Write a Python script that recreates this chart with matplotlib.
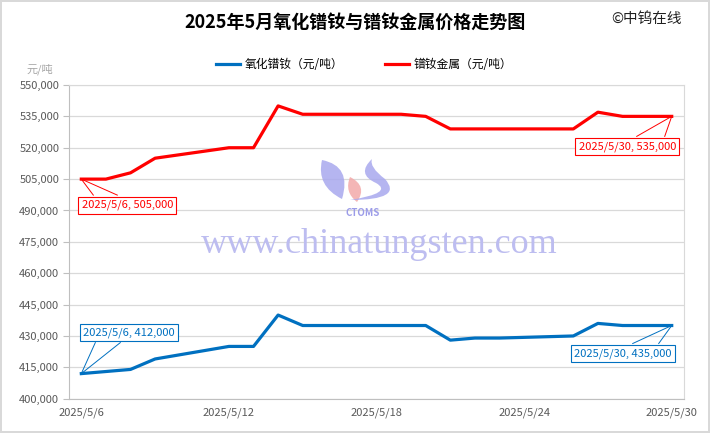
import matplotlib
matplotlib.use("Agg")
import matplotlib.pyplot as plt
import matplotlib.dates as mdates
from matplotlib.ticker import FuncFormatter
from matplotlib.path import Path
from matplotlib.patches import PathPatch
import numpy as np
import datetime as dt

plt.rcParams['font.family'] = ['Noto Sans CJK SC', 'DejaVu Sans']

# trading days in May 2025
days = ["2025-05-06", "2025-05-07", "2025-05-08", "2025-05-09", "2025-05-12",
        "2025-05-13", "2025-05-14", "2025-05-15", "2025-05-16", "2025-05-19",
        "2025-05-20", "2025-05-21", "2025-05-22", "2025-05-23", "2025-05-26",
        "2025-05-27", "2025-05-28", "2025-05-29", "2025-05-30"]
oxide = [412000, 413000, 414000, 419000, 425000, 425000, 440000, 435000, 435000,
         435000, 435000, 428000, 429000, 429000, 430000, 436000, 435000, 435000, 435000]
metal = [505000, 505000, 508000, 515000, 520000, 520000, 540000, 536000, 536000,
         536000, 535000, 529000, 529000, 529000, 529000, 537000, 535000, 535000, 535000]
tick_days = ["2025-05-06", "2025-05-12", "2025-05-18", "2025-05-24", "2025-05-30"]
y_ticks = np.arange(400000, 550001, 15000)

oxide_name = "氧化镨钕（元/吨）"
metal_name = "镨钕金属（元/吨）"
blue = "#0070C0"
red = "#FF0000"

x = [dt.datetime.strptime(d, "%Y-%m-%d") for d in days]
xt = [dt.datetime.strptime(d, "%Y-%m-%d") for d in tick_days]

W, H = 710, 433
fig = plt.figure(figsize=(7.1, 4.33), dpi=100)
fig.patch.set_edgecolor("#D9D9D9")
fig.patch.set_linewidth(1.5)
ax = fig.add_axes([0.0972, 0.0792, 0.8662, 0.7245])

ax.plot(x, oxide, color=blue, lw=2.3, label=oxide_name, zorder=3)
ax.plot(x, metal, color=red, lw=2.3, label=metal_name, zorder=3)

ax.set_ylim(y_ticks[0], y_ticks[-1])
ax.set_yticks(y_ticks)
ax.yaxis.set_major_formatter(FuncFormatter(lambda v, p: f"{int(v):,}"))
ax.set_xlim(x[0] - dt.timedelta(hours=12), x[-1] + dt.timedelta(hours=12))
ax.set_xticks(xt)
ax.xaxis.set_major_formatter(FuncFormatter(
    lambda v, p: "{0.year}/{0.month}/{0.day}".format(mdates.num2date(v))))
ax.grid(axis="y", color="#D9D9D9", lw=0.9)
ax.set_axisbelow(True)
ax.tick_params(axis="both", colors="#595959", labelsize=8, length=0, pad=6)
ax.tick_params(axis="y", length=4, color="#BFBFBF", direction="out", pad=3)
for s in ax.spines.values():
    s.set_color("#D9D9D9")
ax.spines["left"].set_color("#BFBFBF")
ax.spines["bottom"].set_color("#BFBFBF")

fig.text(0.5, 0.948, "2025年5月氧化镨钕与镨钕金属价格走势图", ha="center", va="center",
         fontsize=13, fontweight="bold")
fig.text(0.96, 0.957, "©中钨在线", ha="right", va="center", fontsize=10.5, color="#202020")
fig.text(0.037, 0.84, "元/吨", ha="left", va="center", fontsize=8, color="#A6A6A6")

ax.legend(loc="lower center", bbox_to_anchor=(0.48, 1.01), ncol=2, frameon=False,
          fontsize=8.5, handlelength=2.0, columnspacing=3.6, handletextpad=0.4)

# watermark: logo + site name
def px(pts):
    return [(a / W, 1 - b / H) for a, b in pts]

C3, M, L = Path.CURVE3, Path.MOVETO, Path.CLOSEPOLY
logo = [
    ([(322, 160), (352, 166), (342, 199), (316, 186), (322, 160), (322, 160)],
     [M, C3, C3, C3, C3, L], "#A8A8EE"),
    ([(350, 177), (368, 186), (357, 202), (344, 192), (350, 177), (350, 177)],
     [M, C3, C3, C3, C3, L], "#F3A9A9"),
    ([(372, 159), (356, 174), (376, 183), (394, 193), (350, 200),
      (404, 200), (385, 179), (369, 167), (372, 159), (372, 159)],
     [M, C3, C3, C3, C3, C3, C3, C3, C3, L], "#A8A8EE"),
]
for pts, codes, col in logo:
    fig.add_artist(PathPatch(Path(px(pts), codes), transform=fig.transFigure,
                             fc=col, ec="none", alpha=0.85, zorder=1))
fig.text(363 / W, 1 - 213 / H, "CTOMS", ha="center", va="center", fontsize=7,
         fontstyle="italic", fontweight="bold", color="#9C9CE8", zorder=1)
ax.text(0.505, 0.49, "www.chinatungsten.com", transform=ax.transAxes, ha="center", va="center",
        fontsize=26, family="Liberation Serif", color="#BDBDF0", zorder=1)


def callout(xi, yi, color, box_dx, box_dy, w1, w2):
    label = "{0.year}/{0.month}/{0.day}, {1:,}".format(xi, yi)
    p0 = ax.transData.transform((mdates.date2num(xi), yi))
    for wx, wy in (w1, w2):
        ax.plot([p0[0], p0[0] + wx], [p0[1], p0[1] - wy], color=color, lw=0.7,
                transform=None, zorder=4)
    ax.annotate(label, xy=(xi, yi), xytext=(box_dx * 0.72, -box_dy * 0.72),
                textcoords="offset points", ha="center", va="center", fontsize=8,
                color=color, zorder=5,
                bbox=dict(boxstyle="square,pad=0.3", fc="white", ec=color, lw=0.8))


fig.canvas.draw()
callout(x[0], metal[0], red, 46, 26, (12, 16), (36, 16))
callout(x[-1], metal[-1], red, -44.5, 30, (-35, 20), (-7, 20))
callout(x[0], oxide[0], blue, 48, -41, (14, -31), (39, -31))
callout(x[-1], oxide[-1], blue, -48.5, 28, (-39, 18), (-13, 18))

fig.savefig("out.png", dpi=100)
